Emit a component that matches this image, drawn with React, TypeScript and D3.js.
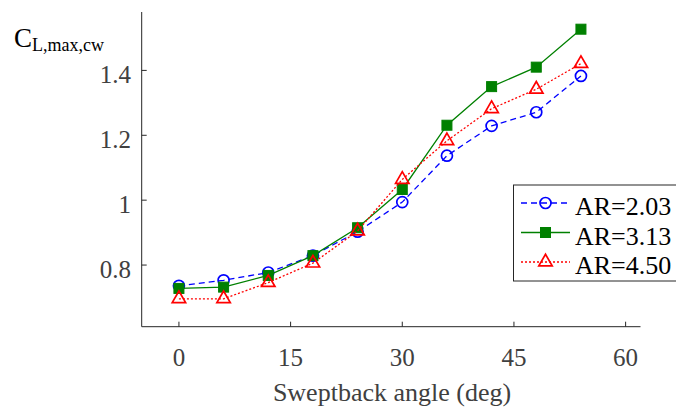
import * as d3 from "d3";
import React from "react";

// sweptback angle (deg)
const angles = [0, 6, 12, 18, 24, 30, 36, 42, 48, 54];
const ar203 = [0.736, 0.753, 0.777, 0.829, 0.903, 0.994, 1.137, 1.229, 1.271, 1.383];
const ar313 = [0.728, 0.732, 0.768, 0.829, 0.915, 1.033, 1.231, 1.35, 1.41, 1.527];
const ar450 = [0.696, 0.696, 0.746, 0.806, 0.905, 1.064, 1.183, 1.282, 1.342, 1.421];
const seriesNames = ["AR=2.03", "AR=3.13", "AR=4.50"];
const xTicks = [0, 15, 30, 45, 60];
const yTicks = [0.8, 1, 1.2, 1.4];

const W = 676;
const H = 410;
const font = "'Liberation Serif', 'Times New Roman', serif";
const axisColor = "#262626";
const tickColor = "#404040";

const styles = [
  { color: "#0000ff", dash: "6,4", marker: "circle" },
  { color: "#008000", dash: null, marker: "square" },
  { color: "#ff0000", dash: "2,2", marker: "triangle" },
];

const Marker = ({ type, x, y, color }: { type: string; x: number; y: number; color: string }) => {
  if (type === "circle") {
    return <circle cx={x} cy={y} r={5.5} fill="none" stroke={color} strokeWidth={1.7} />;
  }
  if (type === "square") {
    return <rect x={x - 5} y={y - 5} width={10} height={10} fill={color} stroke={color} strokeWidth={1} />;
  }
  const tri = d3.symbol().type(d3.symbolTriangle).size(78)();
  return <path d={tri as string} transform={`translate(${x},${y})`} fill="none" stroke={color} strokeWidth={1.7} />;
};

export default function App() {
  const x = d3.scaleLinear().domain([-5, 62]).range([141.7, 640.5]);
  const y = d3.scaleLinear().domain([0.61, 1.58]).range([326.7, 12]);
  const data = [ar203, ar313, ar450];

  const line = d3
    .line<number>()
    .x((_, i) => x(angles[i]))
    .y((d) => y(d));

  const x0 = x.range()[0];
  const y0 = y.range()[0];

  return (
    <div style={{ position: "absolute", left: 0, top: 0 }}>
      <svg width={W} height={H} style={{ display: "block", background: "#fff" }}>
        {/* axes */}
        <line x1={x0} x2={x0} y1={y.range()[1]} y2={y0} stroke={axisColor} strokeWidth={1} />
        <line x1={x0} x2={x.range()[1]} y1={y0} y2={y0} stroke={axisColor} strokeWidth={1} />
        {xTicks.map((t) => (
          <g key={"x" + t}>
            <line x1={x(t)} x2={x(t)} y1={y0} y2={y0 - 5} stroke={axisColor} />
            <text x={x(t)} y={366} textAnchor="middle" fontFamily={font} fontSize={25} fill={tickColor}>
              {t}
            </text>
          </g>
        ))}
        {yTicks.map((t) => (
          <g key={"y" + t}>
            <line x1={x0} x2={x0 + 5} y1={y(t)} y2={y(t)} stroke={axisColor} />
            <text x={131} y={y(t) + 13} textAnchor="end" fontFamily={font} fontSize={25} fill={tickColor}>
              {d3.format("~g")(t)}
            </text>
          </g>
        ))}
        <text x={392} y={401} textAnchor="middle" fontFamily={font} fontSize={26} fill={tickColor}>
          Sweptback angle (deg)
        </text>
        <text x={14} y={47} fontFamily={font} fontSize={27} fill="#000">
          C
          <tspan fontSize={18} dy={4}>L,max,cw</tspan>
        </text>

        {/* series */}
        {data.map((vals, s) => (
          <g key={"s" + s}>
            <path
              d={line(vals) as string}
              fill="none"
              stroke={styles[s].color}
              strokeWidth={1.3}
              strokeDasharray={styles[s].dash ?? undefined}
            />
            {vals.map((v, i) => (
              <Marker key={i} type={styles[s].marker} x={x(angles[i])} y={y(v)} color={styles[s].color} />
            ))}
          </g>
        ))}

        {/* legend */}
        <rect x={513.5} y={185} width={200} height={96} fill="#fff" stroke={axisColor} strokeWidth={1} />
        {seriesNames.map((name, i) => {
          const cy = 203 + i * 29.5;
          return (
            <g key={name}>
              <line
                x1={521}
                x2={570}
                y1={cy}
                y2={cy}
                stroke={styles[i].color}
                strokeWidth={1.3}
                strokeDasharray={styles[i].dash ?? undefined}
              />
              <Marker type={styles[i].marker} x={545.5} y={cy} color={styles[i].color} />
              <text x={575} y={cy + 12} fontFamily={font} fontSize={26} fill="#000">
                {name}
              </text>
            </g>
          );
        })}
      </svg>
    </div>
  );
}
